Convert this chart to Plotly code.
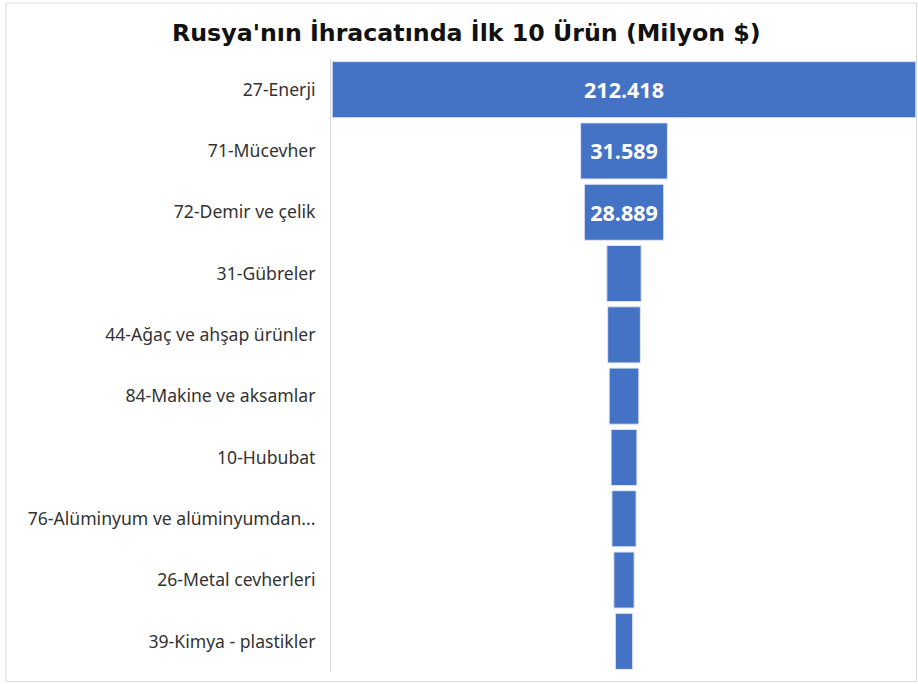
import plotly.graph_objects as go

categories = [
    "27-Enerji",
    "71-Mücevher",
    "72-Demir ve çelik",
    "31-Gübreler",
    "44-Ağaç ve ahşap ürünler",
    "84-Makine ve aksamlar",
    "10-Hububat",
    "76-Alüminyum ve alüminyumdan...",
    "26-Metal cevherleri",
    "39-Kimya - plastikler",
]
values = [212418, 31589, 28889, 12500, 11900, 10800, 9400, 8800, 7400, 6300]
title_text = "Rusya'nın İhracatında İlk 10 Ürün (Milyon $)"

fig = go.Figure(
    go.Funnel(
        y=categories,
        x=values,
        texttemplate="%{x:,.0f}",
        textposition="inside",
        insidetextanchor="middle",
        textfont=dict(family="Open Sans", size=21.5, color="white", weight="bold"),
        marker=dict(color="#4472C4", line=dict(color="#dfe6f5", width=1)),
        connector=dict(visible=False),
        hoverinfo="y+x",
    )
)

half = max(values) / 2 * 1.004
fig.update_layout(
    width=918,
    height=684,
    separators=",.",
    paper_bgcolor="white",
    plot_bgcolor="white",
    margin=dict(l=331, r=1, t=59, b=12),
    funnelgap=0.085,
    showlegend=False,
    uniformtext=dict(minsize=14, mode="hide"),
    title=dict(
        text=title_text,
        x=0.508,
        xanchor="center",
        y=0.952,
        yanchor="middle",
        font=dict(family="DejaVu Sans", size=23.7, color="#111111", weight="bold"),
    ),
    font=dict(family="Noto Sans", size=17.6, color="#333333"),
    xaxis=dict(visible=False, range=[-half, half]),
    yaxis=dict(
        showline=True,
        linecolor="#d9d9d9",
        linewidth=1,
        ticks="",
        ticklabelstandoff=11,
        tickfont=dict(family="Noto Sans", size=17.6, color="#333333"),
    ),
    shapes=[
        dict(
            type="rect",
            xref="paper",
            yref="paper",
            x0=-325 / 586,
            x1=585.5 / 586,
            y0=-9.5 / 613,
            y1=(613 + 56) / 613,
            line=dict(color="#d9d9d9", width=1),
            fillcolor="rgba(0,0,0,0)",
            layer="below",
        )
    ],
)

fig.write_html(
    "out.html",
    config={"displayModeBar": False},
    post_script="document.body.style.margin='0';",
)
